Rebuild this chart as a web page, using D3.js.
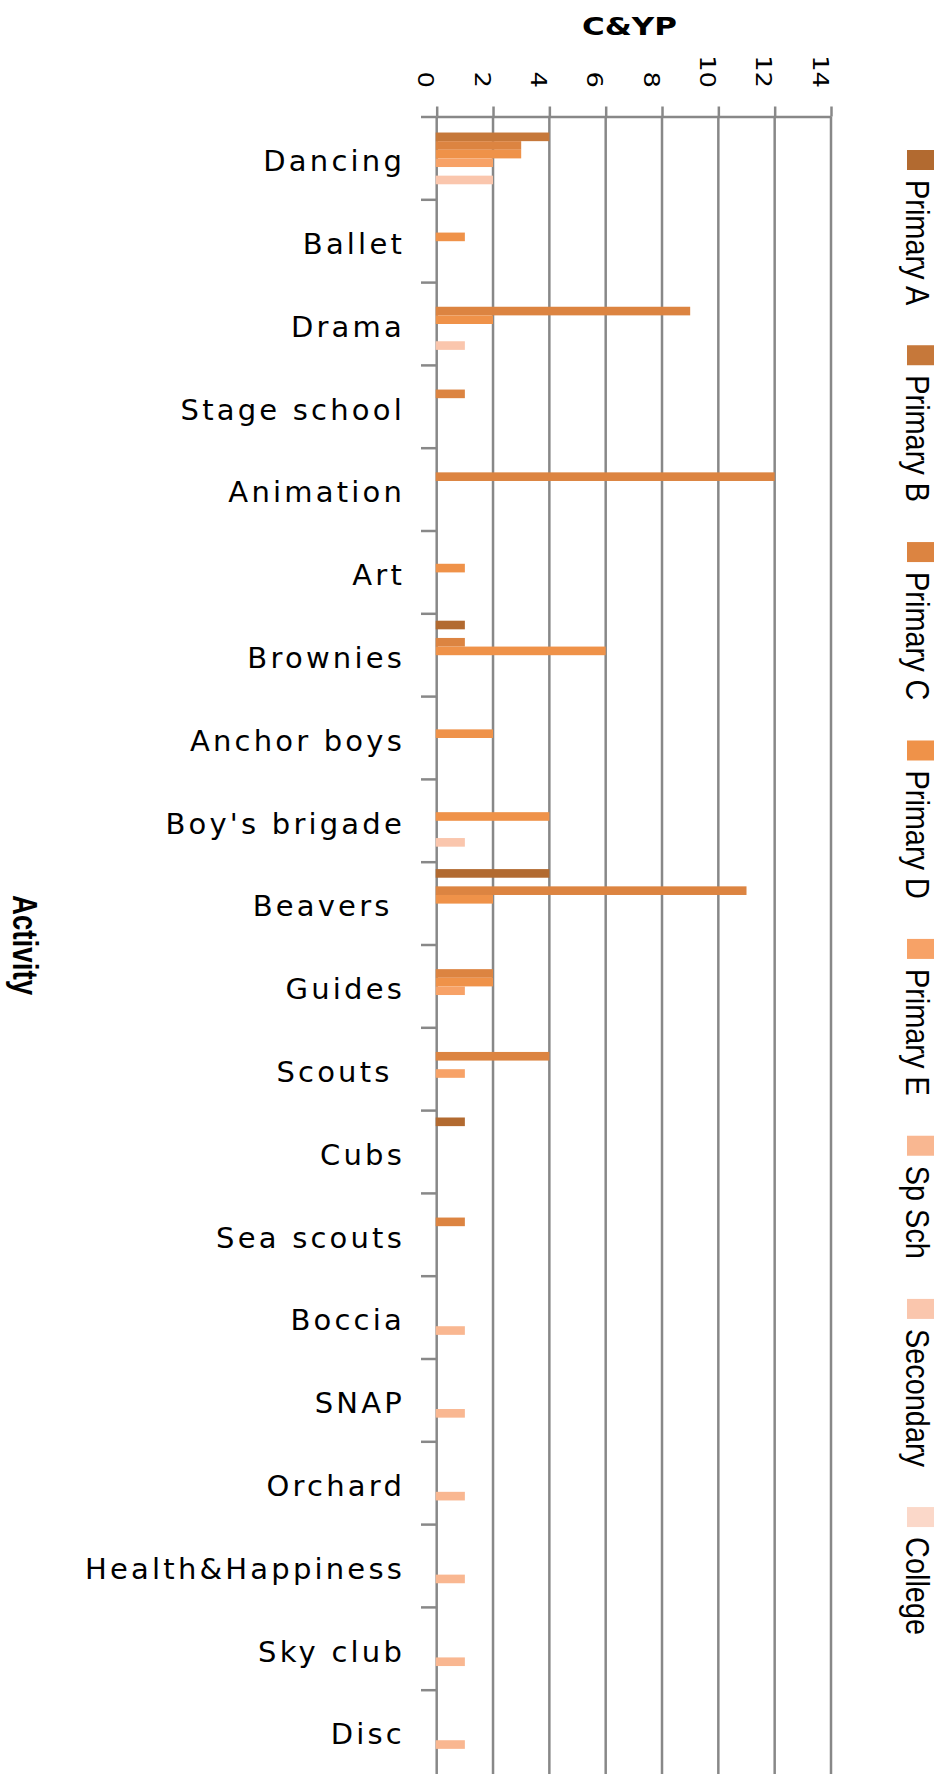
<!DOCTYPE html>
<html><head><meta charset="utf-8">
<script src="https://cdn.jsdelivr.net/npm/d3@7"></script>
<style>body{margin:0;background:#fff} svg{display:block}</style>
</head><body>
<svg id="chart" width="939" height="1774"></svg>
<script>
// ---- data ----
const categories = ["Dancing","Ballet","Drama","Stage school","Animation","Art","Brownies","Anchor boys","Boy's brigade","Beavers ","Guides","Scouts ","Cubs","Sea scouts","Boccia","SNAP","Orchard","Health&Happiness","Sky club","Disc"];
const seriesNames = ["Primary A","Primary B","Primary C","Primary D","Primary E","Sp Sch","Secondary","College"];
const primaryA  = [0,0,0,0,0,0,1,0,0,4,0,0,1,0,0,0,0,0,0,0];
const primaryB  = [4,0,0,0,0,0,0,0,0,0,0,0,0,0,0,0,0,0,0,0];
const primaryC  = [3,0,9,1,12,0,1,0,0,11,2,4,0,1,0,0,0,0,0,0];
const primaryD  = [3,1,2,0,0,1,6,2,4,2,2,0,0,0,0,0,0,0,0,0];
const primaryE  = [2,0,0,0,0,0,0,0,0,0,1,1,0,0,0,0,0,0,0,0];
const spSch     = [0,0,0,0,0,0,0,0,0,0,0,0,0,0,1,1,1,1,1,1];
const secondary = [2,0,1,0,0,0,0,0,1,0,0,0,0,0,0,0,0,0,0,0];
const college   = [0,0,0,0,0,0,0,0,0,0,0,0,0,0,0,0,0,0,0,0];
const xTicks = [0,2,4,6,8,10,12,14];
const colors = ["#b26a30","#c6783a","#dc8441","#ef9249","#f7a267","#f9b791","#fac6ad","#fbd8c9"];
const seriesValues = [primaryA,primaryB,primaryC,primaryD,primaryE,spSch,secondary,college];
const xTitle = "C&YP", yTitle = "Activity";

// ---- layout ----
(function () {
const svg = d3.select("#chart");
const gridColor = "#888888";
const plotTop = 116.5, plotBottom = 1773;
const x = d3.scaleLinear().domain([0,14]).range([436.7, 831]);
const y0 = d3.scaleBand().domain(categories).range([117, plotBottom]);
const y1 = d3.scaleBand().domain(seriesNames).range([0, y0.bandwidth()]).paddingOuter(0.8);

// gridlines
svg.append("g").selectAll("line").data(xTicks.slice(1)).join("line")
  .attr("x1", d => x(d)).attr("x2", d => x(d))
  .attr("y1", plotTop).attr("y2", 1774)
  .attr("stroke", gridColor).attr("stroke-width", 2.5);

// category axis line + ticks
svg.append("line").attr("x1", x(0)).attr("x2", x(0)).attr("y1", plotTop).attr("y2", 1774)
  .attr("stroke", gridColor).attr("stroke-width", 2.5);
svg.append("g").selectAll("line").data(categories).join("line")
  .attr("x1", 421).attr("x2", x(0))
  .attr("y1", d => y0(d)).attr("y2", d => y0(d))
  .attr("stroke", gridColor).attr("stroke-width", 2.5);

// bars
const table = seriesNames.map((s, i) => ({ name: s, color: colors[i], values: seriesValues[i] }));
svg.append("g").selectAll("g").data(table).join("g").attr("fill", d => d.color)
  .selectAll("rect")
  .data(d => categories.map((c, j) => ({ c, s: d.name, v: d.values[j] })).filter(e => e.v > 0))
  .join("rect")
  .attr("x", x(0) - 1)
  .attr("y", d => y0(d.c) + y1(d.s))
  .attr("width", d => x(d.v) - x(0) + 1)
  .attr("height", y1.bandwidth());

// value axis (top)
const xAxis = svg.append("g").attr("transform", `translate(0,${plotTop})`)
  .call(d3.axisTop(x).tickValues(xTicks).tickSize(10).tickSizeOuter(0).tickPadding(0));
xAxis.select(".domain").attr("stroke", gridColor).attr("stroke-width", 2.5);
xAxis.selectAll(".tick line").attr("stroke", gridColor).attr("stroke-width", 2.5);
xAxis.selectAll(".tick text")
  .attr("x", 0).attr("y", 0).attr("dy", null)
  .attr("transform", `translate(-19,${88 - plotTop}) rotate(90) scale(1.23,1)`)
  .attr("text-anchor", "end")
  .attr("font-family", "DejaVu Sans").attr("font-size", 21).attr("fill", "#000");

// category labels
svg.append("g").selectAll("text").data(categories).join("text")
  .attr("x", 405)
  .attr("y", d => y0(d) + y0.bandwidth() / 2 + 12.8)
  .attr("text-anchor", "end")
  .style("white-space", "pre")
  .attr("font-family", "DejaVu Sans").attr("font-size", 29)
  .attr("letter-spacing", 3.2).attr("fill", "#000")
  .text(d => d);

// titles
svg.append("text").attr("transform", "translate(629.5,35) scale(1.24,1)")
  .attr("text-anchor", "middle").attr("font-family", "DejaVu Sans").attr("font-weight", "bold")
  .attr("font-size", 25).attr("fill", "#000").text(xTitle);
svg.append("text").attr("transform", `translate(13,${(117 + plotBottom) / 2}) rotate(90) scale(0.77,1)`)
  .attr("text-anchor", "middle").attr("font-family", "Liberation Sans").attr("font-weight", "bold")
  .attr("font-size", 36).attr("fill", "#000").text(yTitle);

// legend (rotated)
const legScale = 0.85;
const leg = svg.append("g");
let cy = 150;
seriesNames.forEach((s, i) => {
  leg.append("rect").attr("x", 907).attr("y", cy).attr("width", 27).attr("height", 20).attr("fill", colors[i]);
  cy += 30;
  const t = leg.append("text")
    .attr("transform", `translate(906,${cy}) rotate(90) scale(${legScale},1)`)
    .attr("font-family", "Liberation Sans").attr("font-size", 34).attr("fill", "#000").text(s);
  cy += t.node().getComputedTextLength() * legScale + 40;
});
})();
</script>
</body></html>
